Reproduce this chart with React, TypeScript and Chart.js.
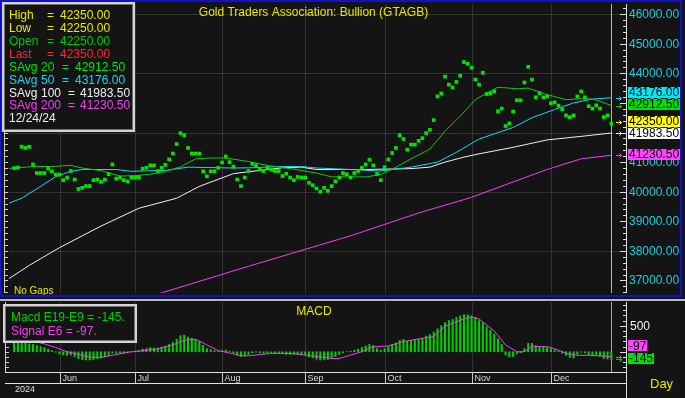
import { useEffect, useRef } from "react";
import { Chart, registerables } from "chart.js";

Chart.register(...registerables);

// ---------------- data ----------------
// trading-day index: Jun 3 2024 = 0, weekdays only ("No Gaps")
const FIRST_DAY = -12;
const LAST_DAY = 146;
const monthLabels = ["Jun", "Jul", "Aug", "Sep", "Oct", "Nov", "Dec"];
const monthStartDays = [0, 20, 43, 65, 86, 109, 130];
const yearLabel = "2024";
const titleText = "Gold Traders Association: Bullion (GTAGB)";
const lastDate = "12/24/24";

// daily price marks (mid of the tiny daily range), day FIRST_DAY .. LAST_DAY
const prices = [
  40800, 40820, 41520, 41480, 41520, 40920, 40630, 40630, 40630, 40780, 40690, 40580,
  40580, 40390, 40480, 40700, 40410, 40090, 40130, 40190, 40190, 40390, 40410, 40330,
  40410, 40590, 40920, 40440, 40480, 40390, 40350, 40480, 40480, 40480, 40780, 40810,
  40890, 40890, 40700, 40810, 40910, 41090, 41290, 41610, 41980, 41910, 41480, 41290,
  41290, 41290, 40690, 40520, 40690, 40690, 40810, 40990, 41190, 41000, 40850, 40410,
  40190, 40480, 40700, 40940, 40890, 40750, 40700, 40810, 40750, 40700, 40700, 40530,
  40610, 40480, 40390, 40500, 40480, 40480, 40300, 40220, 40110, 40000, 40130, 40030,
  40190, 40350, 40480, 40630, 40590, 40480, 40630, 40700, 40810, 40920, 41080, 40890,
  40600, 40390, 40830, 41090, 41310, 41480, 41910, 41780, 41420, 41590, 41590, 41720,
  41810, 41980, 42090, 42420, 43220, 43320, 43890, 43620, 43520, 43710, 43920, 44380,
  44320, 44190, 43790, 43620, 44020, 43300, 43320, 43390, 42720, 42810, 42220, 42310,
  42710, 43090, 43090, 43690, 44220, 43790, 43190, 43330, 43190, 43220, 42990, 43020,
  42910, 42780, 42580, 42520, 42580, 43220, 43390, 43190, 42890, 42810, 42920, 42810,
  42520, 42580, 42300,
];

const sma20Days = [-14, -7, -2, 3, 6, 11, 16, 20, 24, 28, 32, 36, 40, 44, 50, 55, 61, 68, 72, 77, 81, 85, 89, 93, 98, 102, 106, 110, 113, 116, 121, 124, 129, 134, 138, 141, 143, 146];
const sma20Vals = [40780, 40850, 40850, 40890, 40800, 40710, 40530, 40540, 40590, 40680, 40840, 41110, 41140, 41140, 41020, 40890, 40780, 40630, 40500, 40500, 40500, 40580, 40830, 41110, 41440, 42050, 42550, 43110, 43330, 43530, 43480, 43500, 43280, 43110, 43140, 43130, 43050, 42912.5];

const sma50Days = [-14, -10, -5, -1, 3, 6, 15, 19, 28, 34, 46, 51, 58, 64, 68, 77, 85, 93, 100, 105, 111, 116, 120, 125, 131, 136, 141, 146];
const sma50Vals = [39580, 39780, 40180, 40510, 40690, 40750, 40750, 40690, 40720, 40830, 40800, 40810, 40850, 40850, 40800, 40750, 40700, 40830, 41000, 41330, 41780, 42000, 42170, 42500, 42780, 43000, 43130, 43176];

const sma100Days = [-14, -8, 0, 11, 21, 31, 37, 46, 53, 59, 64, 68, 81, 93, 98, 102, 107, 111, 120, 129, 138, 146];
const sma100Vals = [37010, 37510, 38110, 38840, 39440, 39780, 40180, 40610, 40720, 40810, 40830, 40750, 40750, 40780, 40830, 41000, 41170, 41280, 41500, 41750, 41870, 41983.5];

const sma200Days = [10, 27, 50, 77, 95, 109, 120, 129, 138, 146];
const sma200Vals = [35940, 36580, 37480, 38510, 39280, 39810, 40330, 40750, 41110, 41230.5];

// MACD (E19-E9) histogram, day FIRST_DAY .. LAST_DAY
const macdHist = [
  170, 165, 160, 160, 150, 140, 120, 100, 80, 50, 20, -10,
  -40, -60, -70, -60, -90, -130, -150, -160, -160, -150, -130, -120,
  -100, -70, -30, -30, -30, -30, -20, 0, 10, 20, 50, 60,
  80, 70, 70, 90, 110, 140, 180, 240, 310, 320, 280, 260,
  230, 200, 120, 60, 40, 20, 10, 20, 30, 10, -20, -60,
  -90, -80, -50, -20, -10, -20, -30, -20, -20, -30, -30, -40,
  -50, -50, -50, -40, -50, -60, -100, -120, -140, -160, -150, -150,
  -130, -90, -50, -20, 0, 10, 30, 50, 80, 110, 140, 120,
  60, 30, 60, 100, 140, 170, 220, 240, 200, 220, 230, 240,
  250, 300, 330, 380, 440, 500, 560, 600, 620, 660, 690, 710,
  710, 690, 660, 600, 560, 480, 420, 340, 250, 140, -60, -100,
  -90, -40, -20, 60, 160, 160, 120, 100, 100, 80, 60, 30,
  10, -30, -70, -110, -120, -50, -10, -20, -60, -80, -70, -90,
  -130, -140, -145,
];

const signalDays = [-13, -8, -4, -1, 2, 5, 8, 11, 14, 18, 22, 26, 30, 33, 36, 39, 42, 46, 48, 50, 56, 61, 65, 69, 72, 74, 77, 80, 83, 87, 91, 95, 99, 102, 106, 109, 111, 115, 118, 121, 123, 125, 129, 132, 134, 137, 140, 143, 146];
const signalVals = [230, 220, 150, 80, 0, -50, -105, -110, -70, -10, 20, 55, 130, 220, 240, 130, 20, -40, -80, -78, -32, -32, -65, -100, -130, -130, -65, 0, 97, 110, 195, 247, 292, 487, 605, 670, 630, 400, 130, 0, 0, 97, 97, 32, -30, -70, -70, -80, -97];

const priceAxisLabels = [37000, 38000, 39000, 40000, 41000, 42000, 43000, 44000, 45000, 46000];
const priceGridValues = [38000, 40000, 42000, 44000, 46000];
const macdAxisLabels = [500];

const lastBar = { high: 42350, low: 42250, open: 42250, last: 42350 };

// ---------------- styles ----------------
const FONT = "'Liberation Sans', Arial, Helvetica, sans-serif";
const BG = "#141414";
const GRID = "#343434";
const BLUE = "#1212c4";
const YELLOW = "#e8e800";
const GREEN_PT = "#00e400";
const GREEN_LINE = "#10c810";
const CYAN = "#14d8f0";
const WHITE = "#f0f0f0";
const MAGENTA = "#f040f0";
const RED = "#ff2828";
const AXIS_CYAN = "#18d0e0";

const X_MIN = -13.36;
const X_MAX = 149.87;
const PAD_LEFT = 9;
const PAD_RIGHT = 685 - 626;

function pts(days: number[], vals: number[]) {
  return days.map((d, i) => ({ x: d, y: vals[i] }));
}

function line(ctx: CanvasRenderingContext2D, x1: number, y1: number, x2: number, y2: number, color: string, w = 1) {
  ctx.strokeStyle = color;
  ctx.lineWidth = w;
  ctx.beginPath();
  ctx.moveTo(x1, y1);
  ctx.lineTo(x2, y2);
  ctx.stroke();
}

function drawArrow(ctx: CanvasRenderingContext2D, y: number, color: string) {
  const py = Math.round(y) + 0.5;
  ctx.strokeStyle = color;
  ctx.lineWidth = 1;
  ctx.beginPath();
  ctx.moveTo(616, py);
  ctx.lineTo(622, py);
  ctx.moveTo(619.5, py - 2);
  ctx.lineTo(621.5, py);
  ctx.lineTo(619.5, py + 2);
  ctx.stroke();
}

function drawBox(ctx: CanvasRenderingContext2D, x: number, y: number, w: number, h: number) {
  ctx.fillStyle = BG;
  ctx.fillRect(x, y, w, h);
  ctx.strokeStyle = "#d4d4d4";
  ctx.lineWidth = 2;
  ctx.strokeRect(x + 1, y + 1, w - 2, h - 2);
  ctx.strokeStyle = "#707070";
  ctx.lineWidth = 1;
  ctx.strokeRect(x + 2.5, y + 2.5, w - 5, h - 5);
}

type Tag = { y: number; text: string; bg: string; arrow: string; anchor?: boolean };

function drawTags(ctx: CanvasRenderingContext2D, tags: Tag[]) {
  const sorted = [...tags].sort((a, b) => a.y - b.y);
  const pos = sorted.map((t) => t.y - 1);
  const gap = 12.5;
  let ai = sorted.findIndex((t) => t.anchor);
  if (ai < 0) ai = 0;
  for (let i = ai - 1; i >= 0; i--) pos[i] = Math.min(pos[i], pos[i + 1] - gap);
  for (let i = ai + 1; i < sorted.length; i++) pos[i] = Math.max(pos[i], pos[i - 1] + gap);
  ctx.font = `12px ${FONT}`;
  ctx.textBaseline = "middle";
  ctx.textAlign = "left";
  sorted.forEach((t, i) => {
    drawArrow(ctx, t.y, t.arrow);
    const w = ctx.measureText(t.text).width + 2;
    ctx.fillStyle = t.bg;
    ctx.fillRect(628, Math.round(pos[i] - 5.5), w, 11);
    ctx.fillStyle = "#000000";
    ctx.fillText(t.text, 629, pos[i] + 0.5);
  });
}

const mainPlugin = {
  id: "mainDecor",
  beforeDraw(chart: any) {
    const { ctx, chartArea: a } = chart;
    const xs = chart.scales.x;
    const ys = chart.scales.y;
    ctx.save();
    ctx.fillStyle = BG;
    ctx.fillRect(0, 0, chart.width, chart.height);
    for (const v of priceGridValues) {
      const py = Math.round(ys.getPixelForValue(v)) + 0.5;
      line(ctx, a.left, py, a.right, py, GRID);
    }
    for (const d of monthStartDays) {
      const px = Math.round(xs.getPixelForValue(d)) + 0.5;
      line(ctx, px, a.top, px, a.bottom, GRID);
    }
    const cx = Math.round(xs.getPixelForValue(LAST_DAY)) + 0.5;
    line(ctx, cx, a.top, cx, a.bottom, "#b4b4b4");
    ctx.restore();
  },
  afterDraw(chart: any) {
    const { ctx, chartArea: a } = chart;
    const ys = chart.scales.y;
    ctx.save();
    // right axis
    const ax = a.right + 0.5;
    line(ctx, ax, a.top, ax, a.bottom, "#e0e0e0");
    line(ctx, 4.5, a.top, 4.5, a.bottom, "#d0d0d0");
    for (let v = Math.ceil(ys.min / 200) * 200; v <= ys.max; v += 200) {
      const py = Math.round(ys.getPixelForValue(v)) + 0.5;
      const major = v % 1000 === 0;
      line(ctx, a.right - (major ? 6 : 3), py, a.right, py, "#e0e0e0");
      line(ctx, 4.5, py, 8, py, "#d0d0d0");
    }
    ctx.font = `12px ${FONT}`;
    ctx.textBaseline = "middle";
    ctx.textAlign = "left";
    ctx.fillStyle = AXIS_CYAN;
    for (const v of priceAxisLabels) ctx.fillText(v.toFixed(2), 629, ys.getPixelForValue(v) + 0.5);

    // title
    ctx.fillStyle = YELLOW;
    ctx.textAlign = "center";
    ctx.fillText(titleText, 313.5, 12.5);
    ctx.textAlign = "left";
    ctx.font = `10px ${FONT}`;
    ctx.fillText("No Gaps", 14, 291.5);

    // legend box
    drawBox(ctx, 2, 2, 133, 130);
    ctx.font = `12px ${FONT}`;
    const rowY = (i: number) => 15.8 + i * 12.9;
    const simple: [string, number, string][] = [
      ["High", lastBar.high, YELLOW],
      ["Low", lastBar.low, YELLOW],
      ["Open", lastBar.open, "#00c800"],
      ["Last", lastBar.last, RED],
    ];
    simple.forEach(([lab, v, col], i) => {
      ctx.fillStyle = col;
      ctx.fillText(lab, 9, rowY(i));
      ctx.fillText("=", 47, rowY(i));
      ctx.fillText(v.toFixed(2), 60, rowY(i));
    });
    const smas: [string, number, string][] = [
      ["20", sma20Vals[sma20Vals.length - 1], GREEN_PT],
      ["50", sma50Vals[sma50Vals.length - 1], CYAN],
      ["100", sma100Vals[sma100Vals.length - 1], WHITE],
      ["200", sma200Vals[sma200Vals.length - 1], MAGENTA],
    ];
    smas.forEach(([n, v, col], j) => {
      const i = j + 4;
      const wide = n.length === 3;
      ctx.fillStyle = col;
      ctx.fillText("SAvg", 9, rowY(i));
      ctx.fillText(n, 41, rowY(i));
      ctx.fillText("=", wide ? 68 : 62, rowY(i));
      ctx.fillText(v.toFixed(2), wide ? 80 : 75, rowY(i));
    });
    ctx.fillStyle = WHITE;
    ctx.fillText(lastDate, 9, rowY(8));

    // value tags on right axis
    const tags: Tag[] = [
      { y: ys.getPixelForValue(smas[1][1]), text: smas[1][1].toFixed(2), bg: "#00e8f8", arrow: CYAN },
      { y: ys.getPixelForValue(smas[0][1]), text: smas[0][1].toFixed(2), bg: "#00e000", arrow: GREEN_LINE },
      { y: ys.getPixelForValue(lastBar.last), text: lastBar.last.toFixed(2), bg: "#ffff00", arrow: "#ffff00", anchor: true },
      { y: ys.getPixelForValue(smas[2][1]), text: smas[2][1].toFixed(2), bg: "#ffffff", arrow: WHITE },
      { y: ys.getPixelForValue(smas[3][1]), text: smas[3][1].toFixed(2), bg: "#ff44ff", arrow: MAGENTA },
    ];
    drawTags(ctx, tags);

    // blue frame
    ctx.fillStyle = BLUE;
    ctx.fillRect(0, 0, 682, 2);
    ctx.fillRect(0, 0, 2, 297);
    ctx.fillRect(680, 0, 2, 297);
    ctx.fillRect(0, 295, 682, 2);
    ctx.restore();
  },
};

const macdPlugin = {
  id: "macdDecor",
  beforeDraw(chart: any) {
    const { ctx, chartArea: a } = chart;
    const xs = chart.scales.x;
    ctx.save();
    ctx.fillStyle = BG;
    ctx.fillRect(0, 0, chart.width, chart.height);
    ctx.fillStyle = "#b8b8b8";
    ctx.fillRect(0, 2, chart.width, 2);
    for (const d of monthStartDays) {
      const px = Math.round(xs.getPixelForValue(d)) + 0.5;
      line(ctx, px, a.top, px, a.bottom, GRID);
    }
    const cx = Math.round(xs.getPixelForValue(LAST_DAY)) + 0.5;
    line(ctx, cx, a.top, cx, a.bottom, "#a8a8a8");
    ctx.restore();
  },
  afterDraw(chart: any) {
    const { ctx, chartArea: a } = chart;
    const xs = chart.scales.x;
    const ys = chart.scales.y;
    ctx.save();
    // right axis
    line(ctx, a.right + 0.5, a.top, a.right + 0.5, chart.height, "#e0e0e0");
    line(ctx, 5.5, a.top, 5.5, a.bottom, "#d0d0d0");
    for (let v = Math.ceil(ys.min / 100) * 100; v <= ys.max; v += 100) {
      const py = Math.round(ys.getPixelForValue(v)) + 0.5;
      const major = v % 500 === 0;
      line(ctx, a.right - (major ? 6 : 3), py, a.right, py, "#e0e0e0");
      line(ctx, 5.5, py, 9, py, "#d0d0d0");
    }
    ctx.font = `12px ${FONT}`;
    ctx.textBaseline = "middle";
    ctx.textAlign = "left";
    ctx.fillStyle = WHITE;
    for (const v of macdAxisLabels) ctx.fillText(String(v), 630, ys.getPixelForValue(v) + 0.5);

    // date band
    line(ctx, 5, a.bottom + 0.5, a.right + 0.5, a.bottom + 0.5, "#e4e4e4");
    line(ctx, 5, a.bottom + 11.5, a.right + 0.5, a.bottom + 11.5, "#e4e4e4");
    ctx.font = `9px ${FONT}`;
    monthStartDays.forEach((d, i) => {
      const px = Math.round(xs.getPixelForValue(d)) + 0.5;
      line(ctx, px, a.bottom, px, a.bottom + 11, "#c8c8c8");
      ctx.fillStyle = "#d8d8d8";
      ctx.fillText(monthLabels[i], px + 2, a.bottom + 7);
    });
    ctx.fillStyle = "#e0e0e0";
    ctx.fillText(yearLabel, 15, a.bottom + 17.5);
    ctx.font = `13px ${FONT}`;
    ctx.fillStyle = YELLOW;
    ctx.fillText("Day", 650, a.bottom + 12.5);

    // legend box
    drawBox(ctx, 3, 7, 134, 39);
    ctx.font = `12px ${FONT}`;
    const macdLast = macdHist[macdHist.length - 1];
    const sigLast = signalVals[signalVals.length - 1];
    ctx.fillStyle = "#00d000";
    ctx.fillText(`Macd E19-E9 = ${macdLast}.`, 11, 20.5);
    ctx.fillStyle = MAGENTA;
    ctx.fillText(`Signal E6 = ${sigLast}.`, 11, 34.5);
    ctx.fillStyle = YELLOW;
    ctx.textAlign = "center";
    ctx.fillText("MACD", 314, 14.5);
    ctx.textAlign = "left";

    drawTags(ctx, [
      { y: ys.getPixelForValue(sigLast), text: String(sigLast), bg: "#ff44ff", arrow: MAGENTA },
      { y: ys.getPixelForValue(macdLast), text: String(macdLast), bg: "#00e000", arrow: "#00d000", anchor: true },
    ]);
    ctx.restore();
  },
};

function mainConfig(): any {
  const lineDs = (days: number[], vals: number[], color: string, order: number) => ({
    data: pts(days, vals),
    showLine: true,
    borderColor: color,
    borderWidth: 1,
    pointRadius: 0,
    fill: false,
    tension: 0,
    order,
  });
  return {
    type: "scatter",
    data: {
      datasets: [
        {
          data: prices.map((v, k) => ({ x: FIRST_DAY + k, y: v })),
          pointStyle: "rect",
          pointRadius: 2.6,
          pointBorderWidth: 0,
          pointBackgroundColor: GREEN_PT,
          backgroundColor: GREEN_PT,
          borderColor: GREEN_PT,
          showLine: false,
          order: 0,
        },
        lineDs(sma20Days, sma20Vals, GREEN_LINE, 1),
        lineDs(sma50Days, sma50Vals, CYAN, 2),
        lineDs(sma100Days, sma100Vals, WHITE, 3),
        lineDs(sma200Days, sma200Vals, MAGENTA, 4),
      ],
    },
    options: {
      responsive: false,
      animation: false,
      events: [],
      layout: { padding: { left: PAD_LEFT, right: PAD_RIGHT, top: 3, bottom: 1 } },
      scales: {
        x: { type: "linear", min: X_MIN, max: X_MAX, display: false },
        y: { type: "linear", min: 36577, max: 46343, display: false },
      },
      plugins: { legend: { display: false }, tooltip: { enabled: false }, title: { display: false } },
    },
    plugins: [mainPlugin],
  };
}

function macdConfig(): any {
  return {
    type: "bar",
    data: {
      datasets: [
        {
          type: "line",
          data: pts(signalDays, signalVals),
          borderColor: MAGENTA,
          borderWidth: 1,
          pointRadius: 0,
          fill: false,
          tension: 0,
          order: 0,
        },
        {
          type: "bar",
          data: macdHist.map((v, k) => ({ x: FIRST_DAY + k, y: v })),
          backgroundColor: "#00d000",
          borderWidth: 0,
          barThickness: 1.4,
          order: 1,
        },
      ],
    },
    options: {
      responsive: false,
      animation: false,
      events: [],
      layout: { padding: { left: PAD_LEFT, right: PAD_RIGHT, top: 5, bottom: 26 } },
      scales: {
        x: { type: "linear", min: X_MIN, max: X_MAX, offset: false, display: false, grid: { offset: false } },
        y: { type: "linear", min: -390, max: 956, display: false },
      },
      plugins: { legend: { display: false }, tooltip: { enabled: false }, title: { display: false } },
    },
    plugins: [macdPlugin],
  };
}

export default function App() {
  const mainRef = useRef<HTMLCanvasElement>(null);
  const macdRef = useRef<HTMLCanvasElement>(null);
  useEffect(() => {
    const c1 = new Chart(mainRef.current as HTMLCanvasElement, mainConfig());
    const c2 = new Chart(macdRef.current as HTMLCanvasElement, macdConfig());
    return () => {
      c1.destroy();
      c2.destroy();
    };
  }, []);
  return (
    <div
      style={{
        position: "fixed",
        left: 0,
        top: 0,
        width: 685,
        height: 398,
        background: BG,
        overflow: "hidden",
      }}
    >
      <canvas
        ref={mainRef}
        width={685}
        height={297}
        style={{ position: "absolute", left: 0, top: 0, width: 685, height: 297 }}
      />
      <canvas
        ref={macdRef}
        width={685}
        height={101}
        style={{ position: "absolute", left: 0, top: 297, width: 685, height: 101 }}
      />
    </div>
  );
}
